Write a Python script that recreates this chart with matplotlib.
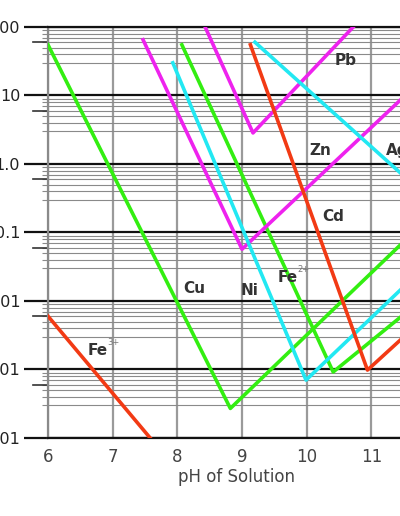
import matplotlib
matplotlib.use("Agg")
import matplotlib.pyplot as plt
import matplotlib.ticker as mticker
import matplotlib.transforms as mtransforms

# ---- data (pH, solubility mg/L) ----
fe3_ph = [6.0, 7.58]
fe3_val = [0.0060, 0.0001]

cu_ph = [6.0, 8.82, 11.45]
cu_val = [55, 0.00027, 0.066]

fe2_ph = [8.07, 10.41, 11.45]
fe2_val = [55, 0.00092, 0.0058]

ni_ph = [7.93, 9.99, 11.45]
ni_val = [30, 0.0007, 0.0145]

zn_ph = [7.47, 9.0, 11.45]
zn_val = [65, 0.057, 8.6]

pb_ph = [8.43, 9.17, 10.72]
pb_val = [100, 2.84, 100]

ag_ph = [9.20, 11.45]
ag_val = [60, 0.74]

cd_ph = [9.13, 10.94, 11.45]
cd_val = [55, 0.00098, 0.0027]

x_ticks = [6, 7, 8, 9, 10, 11, 12]
x_ticklabels = ["6", "7", "8", "9", "10", "11", ""]
y_ticks = [1e-4, 1e-3, 1e-2, 1e-1, 1, 10, 100]
y_ticklabels = ["0.0001", "0.001", "0.01", "0.1", "1.0", "10", "100"]

GREEN = "#33ee11"
MAGENTA = "#ee22ee"
CYAN = "#22e8f2"
RED = "#f23a14"

fig = plt.figure(figsize=(4.0, 5.16), dpi=100)
ax = fig.add_axes([0.12, 0.1512, 0.97, 0.7965])
ax.set_yscale("log")
ax.set_xlim(6, 12)
ax.set_ylim(1e-4, 100)

# grid
ax.set_xticks(x_ticks)
ax.set_xticklabels(x_ticklabels)
ax.set_yticks(y_ticks)
ax.set_yticklabels(y_ticklabels)
ax.yaxis.set_minor_locator(mticker.LogLocator(base=10, subs=[3, 4, 5, 6, 7, 8, 9], numticks=20))
ax.yaxis.set_minor_formatter(mticker.NullFormatter())
ax.grid(True, axis="x", color="#9a9a9a", lw=1.6, zorder=0)
ax.grid(True, axis="y", which="major", color="#111111", lw=1.6, zorder=0)
ax.grid(True, axis="y", which="minor", color="#8a8a8a", lw=0.8, zorder=0)
ax.set_axisbelow(True)

ax.tick_params(axis="y", which="major", length=17, width=1.6, color="#111111",
               pad=3, labelsize=11.5, labelcolor="#222222")
ax.tick_params(axis="y", which="minor", length=4, width=0.8, color="#8a8a8a")
ax.tick_params(axis="x", length=0, pad=7, labelsize=12, labelcolor="#444444")

for side in ["top", "bottom"]:
    ax.spines[side].set_color("#111111")
    ax.spines[side].set_linewidth(1.6)
ax.spines["left"].set_color("#8a8a8a")
ax.spines["left"].set_linewidth(1.6)

# short darker stubs at the 6x minor positions
trans = mtransforms.blended_transform_factory(ax.transAxes, ax.transData)
for v in [6e-4, 6e-3, 6e-2, 6e-1, 6, 60]:
    ax.plot([-0.039, 0.0], [v, v], color="#333333", lw=1.2, transform=trans,
            clip_on=False, zorder=1)

lw = 2.6
ax.plot(fe3_ph, fe3_val, color=RED, lw=lw, zorder=3)
ax.plot(cu_ph, cu_val, color=GREEN, lw=lw, zorder=3)
ax.plot(fe2_ph, fe2_val, color=GREEN, lw=lw, zorder=3)
ax.plot(zn_ph, zn_val, color=MAGENTA, lw=lw, zorder=3)
ax.plot(pb_ph, pb_val, color=MAGENTA, lw=lw, zorder=3)
ax.plot(ni_ph, ni_val, color=CYAN, lw=lw, zorder=3)
ax.plot(ag_ph, ag_val, color=CYAN, lw=lw, zorder=3)
ax.plot(cd_ph, cd_val, color=RED, lw=lw, zorder=3)

lab = dict(fontsize=11, fontweight="bold", color="#333333", ha="center", va="center", zorder=4)
sup = dict(fontsize=6, color="#777777", ha="left", va="center", zorder=4)
ax.text(8.26, 0.015, "Cu", **lab)
ax.text(9.11, 0.014, "Ni", **lab)
ax.text(9.70, 0.0217, "Fe", **lab)
ax.text(9.85, 0.0290, "2+", **sup)
ax.text(10.21, 1.6, "Zn", **lab)
ax.text(10.60, 32, "Pb", **lab)
ax.text(10.41, 0.174, "Cd", **lab)
ax.text(11.22, 1.6, "Ag", fontsize=11, fontweight="bold", color="#333333",
        ha="left", va="center", zorder=4)
ax.text(6.77, 0.0019, "Fe", **lab)
ax.text(6.92, 0.0025, "3+", **sup)

fig.text(237 / 400, 1 - 477 / 516, "pH of Solution", ha="center", va="center",
         fontsize=12, color="#444444")

fig.savefig("out.png", dpi=100)
